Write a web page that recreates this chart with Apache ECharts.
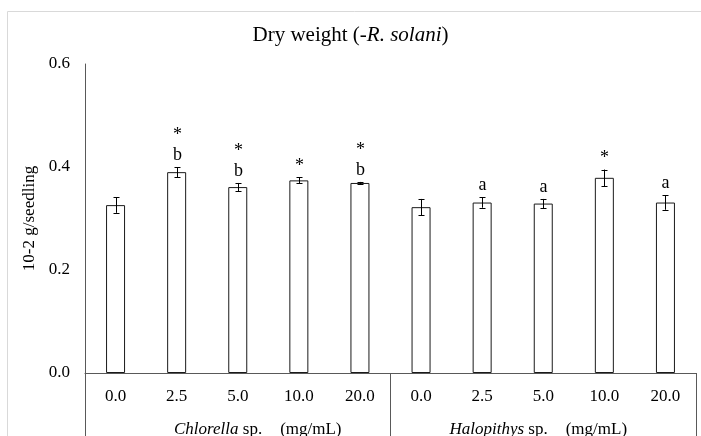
<!DOCTYPE html>
<html>
<head>
<meta charset="utf-8">
<script src="https://cdn.jsdelivr.net/npm/echarts@6/dist/echarts.min.js"></script>
<style>
  html, body { margin: 0; padding: 0; background: #fff; }
  #chart { width: 701px; height: 436px; }
</style>
</head>
<body>
<div id="chart"></div>
<script>
(function () {
    var chart = echarts.init(document.getElementById('chart'));

    // doses, two groups of five
    var doses = ['0.0', '2.5', '5.0', '10.0', '20.0', '0.0', '2.5', '5.0', '10.0', '20.0'];
    var groups = ['Chlorella', 'Halopithys'];
    var yTicks = [0, 0.2, 0.4, 0.6];

    // dry weight means and standard errors
    var means = [0.326, 0.390, 0.361, 0.374, 0.369, 0.322, 0.331, 0.329, 0.379, 0.331];
    var errs = [0.015, 0.010, 0.008, 0.006, 0.002, 0.016, 0.010, 0.009, 0.016, 0.014];
    var letters = ['', 'b', 'b', '', 'b', '', 'a', 'a', '', 'a'];
    var stars = ['', '*', '*', '*', '*', '', '', '', '*', ''];

    var serif = 'Liberation Serif';
    var axisColor = '#595959';

    var errData = means.map(function (m, i) { return [i, m, errs[i]]; });

    var option = {
        animation: false,
        title: {
            text: '{n|Dry weight (-}{i|R. solani}{n|)}',
            left: 'center',
            top: 20,
            textStyle: {
                fontWeight: 'normal',
                rich: {
                    n: { fontFamily: serif, fontSize: 21, fontWeight: 'normal', color: '#000' },
                    i: { fontFamily: serif, fontSize: 21, fontWeight: 'normal', color: '#000', fontStyle: 'italic' }
                }
            }
        },
        graphic: [{
            type: 'rect',
            shape: { x: 7.5, y: 11.5, width: 720, height: 460 },
            style: { fill: 'none', stroke: '#d9d9d9', lineWidth: 1 },
            silent: true
        }],
        grid: { left: 85, right: 5, top: 64, bottom: 63, outerBoundsMode: 'none' },
        xAxis: [{
            type: 'category',
            data: doses,
            axisLine: { lineStyle: { color: axisColor, width: 1 } },
            axisTick: { show: false },
            axisLabel: { interval: 0, margin: 15, fontFamily: serif, fontSize: 17, color: '#000' }
        }, {
            type: 'category',
            data: groups,
            position: 'bottom',
            axisLine: { show: false },
            axisTick: { show: true, length: 64, interval: 0, lineStyle: { color: axisColor, width: 1 } },
            axisLabel: {
                interval: 0,
                margin: 48,
                formatter: function (v, idx) {
                    if (idx === 0) return '{pad| }{i|' + v + '}{n| sp.}{gap| }{n|(mg/mL)}';
                    return '{i|' + v + '}{n| sp.}{gap| }{n|(mg/mL)}{pad2| }';
                },
                rich: {
                    i: { fontFamily: serif, fontSize: 17, color: '#000', fontStyle: 'italic' },
                    n: { fontFamily: serif, fontSize: 17, color: '#000' },
                    gap: { width: 18, fontSize: 17 },
                    pad: { width: 40, fontSize: 17 },
                    pad2: { width: 10, fontSize: 17 }
                }
            }
        }],
        yAxis: {
            type: 'value',
            min: yTicks[0],
            max: yTicks[yTicks.length - 1],
            interval: 0.2,
            name: '10-2 g/seedling',
            nameLocation: 'middle',
            nameGap: 40,
            nameTextStyle: { fontFamily: serif, fontSize: 17, color: '#000' },
            axisLine: { show: true, lineStyle: { color: axisColor, width: 1 } },
            axisTick: { show: false },
            splitLine: { show: false },
            axisLabel: {
                margin: 15,
                fontFamily: serif, fontSize: 17, color: '#000',
                formatter: function (v) { return v.toFixed(1); }
            }
        },
        series: [{
            type: 'bar',
            xAxisIndex: 0,
            data: means,
            barWidth: 19,
            itemStyle: { color: '#fff', borderColor: '#1a1a1a', borderWidth: 1 }
        }, {
            type: 'custom',
            xAxisIndex: 0,
            data: errData,
            z: 5,
            renderItem: function (params, api) {
                var i = api.value(0), m = api.value(1), e = api.value(2);
                var top = api.coord([i, m + e]);
                var bot = api.coord([i, m - e]);
                var x = Math.round(top[0]) + 0.5;
                var hw = 3;
                var st = { stroke: '#000', lineWidth: 1 };
                var kids = [
                    { type: 'line', shape: { x1: x, y1: top[1], x2: x, y2: bot[1] }, style: st },
                    { type: 'line', shape: { x1: x - hw, y1: Math.round(top[1]) + 0.5, x2: x + hw, y2: Math.round(top[1]) + 0.5 }, style: st },
                    { type: 'line', shape: { x1: x - hw, y1: Math.round(bot[1]) + 0.5, x2: x + hw, y2: Math.round(bot[1]) + 0.5 }, style: st }
                ];
                var idx = params.dataIndex;
                var y = top[1] - 12;
                if (letters[idx]) {
                    kids.push({ type: 'text', style: { text: letters[idx], x: x, y: y, align: 'center', verticalAlign: 'middle', fontFamily: serif, fontSize: 18, fill: '#000' } });
                    y -= 23;
                } else {
                    y -= 2;
                }
                if (stars[idx]) {
                    kids.push({ type: 'text', style: { text: stars[idx], x: x, y: y + 3, align: 'center', verticalAlign: 'middle', fontFamily: serif, fontSize: 18, fill: '#000' } });
                }
                return { type: 'group', children: kids };
            }
        }]
    };

    chart.setOption(option);
})();
</script>
</body>
</html>
